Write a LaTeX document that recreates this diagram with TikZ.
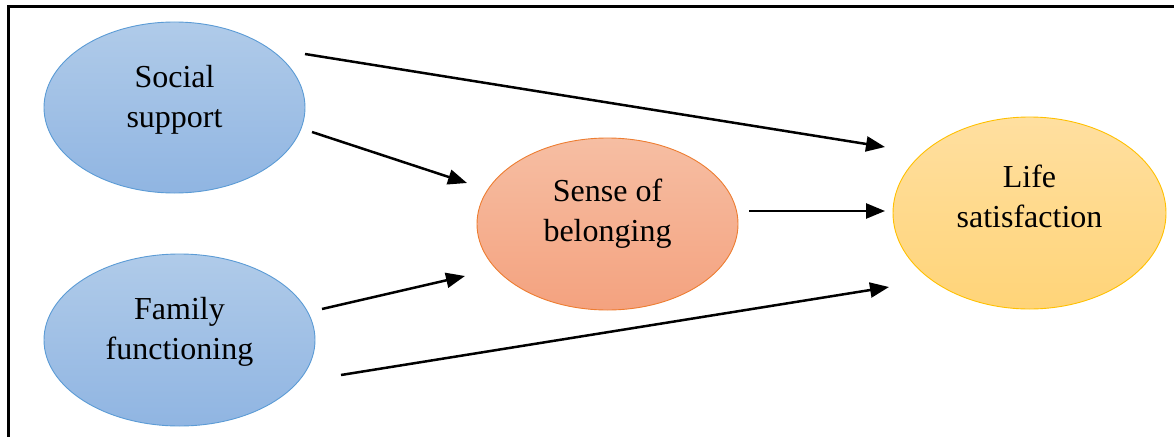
\documentclass[tikz,border=0pt]{standalone}
\usepackage{fontspec}
\setmainfont{Liberation Serif}
\usetikzlibrary{arrows.meta,shapes.geometric}
\definecolor{bluetop}{HTML}{B0CBE9}
\definecolor{bluebot}{HTML}{90B5E2}
\definecolor{blueline}{HTML}{5B9BD5}
\definecolor{ortop}{HTML}{F6BEA3}
\definecolor{orbot}{HTML}{F4A27F}
\definecolor{orline}{HTML}{ED7D31}
\definecolor{yetop}{HTML}{FFDFA0}
\definecolor{yebot}{HTML}{FFD478}
\definecolor{yeline}{HTML}{FFC000}
\tikzset{
  ell/.style={ellipse, draw, line width=0.9pt, inner sep=0pt},
  lbl/.style={align=center, font=\fontsize{32}{40}\selectfont, inner sep=0pt},
  arr/.style={line width=2.5pt, -{Triangle[length=19pt,width=15pt]}},
  frame/.style={line width=3pt}
}
\begin{document}
\begin{tikzpicture}[x=1pt,y=-1pt]
\useasboundingbox (0,0) rectangle (1174,436);
\begin{scope}
\clip (0,0) rectangle (1174,436);
\coordinate (fbl) at (8,450);
\coordinate (ftl) at (8,7);
\coordinate (ftr) at (1190,7);
\draw[frame] (fbl) -- (ftl) -- (ftr);
\end{scope}
% ellipses
\node[ell, draw=blueline, top color=bluetop, bottom color=bluebot, minimum width=261pt, minimum height=171pt] (ss) at (174.5,107.5) {};
\node[ell, draw=blueline, top color=bluetop, bottom color=bluebot, minimum width=271pt, minimum height=172pt] (ff) at (179.5,340) {};
\node[ell, draw=orline, top color=ortop, bottom color=orbot, minimum width=261pt, minimum height=172pt] (sb) at (607.5,224) {};
\node[ell, draw=yeline, top color=yetop, bottom color=yebot, minimum width=273pt, minimum height=192pt] (ls) at (1029.5,213) {};
% labels
\node[lbl] (sst) at ([yshift=8pt]ss.center) {Social\\support};
\node[lbl] (fft) at ([yshift=8pt]ff.center) {Family\\functioning};
\node[lbl] (sbt) at ([yshift=10pt]sb.center) {Sense of\\belonging};
\node[lbl] (lst) at ([yshift=17pt]ls.center) {Life\\satisfaction};
% arrow endpoints
\coordinate (a1s) at (305,54);  \coordinate (a1e) at (885,147);
\coordinate (a2s) at (312,132); \coordinate (a2e) at (467,183);
\coordinate (a3s) at (322,309); \coordinate (a3e) at (465,276);
\coordinate (a4s) at (341,375); \coordinate (a4e) at (889,287);
\coordinate (a5s) at (749,211); \coordinate (a5e) at (885,211);
\draw[arr] (a1s) -- (a1e);
\draw[arr] (a2s) -- (a2e);
\draw[arr] (a3s) -- (a3e);
\draw[arr] (a4s) -- (a4e);
\draw[arr] (a5s) -- (a5e);
\end{tikzpicture}
\end{document}
